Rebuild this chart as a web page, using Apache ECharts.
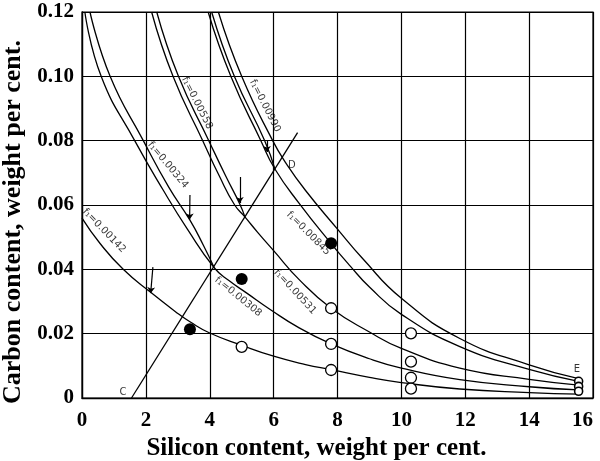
<!DOCTYPE html>
<html><head><meta charset="utf-8">
<script src="https://cdn.jsdelivr.net/npm/echarts@6/dist/echarts.min.js"></script>
<style>html,body{margin:0;padding:0;background:#fff}#c{width:600px;height:461px}</style>
</head><body><div id="c"></div>
<script>
// ---- tick labels ----
const xTickLabels = ['0','2','4','6','8','10','12','14','16'];
const yTickLabels = ['0','0.02','0.04','0.06','0.08','0.10','0.12'];

// ---- curves (Si %, C %) ----
const curveF142 = [[0,0.0559],[0.56,0.0481],[1.29,0.040],[2.13,0.0330],[3.0,0.0263],[3.38,0.0237],[4,0.0202],[5,0.0164],[6,0.0130],[7,0.0104],[7.8,0.0088],[9,0.0064],[10,0.0048],[11.83,0.0028],[14,0.0017],[15.55,0.0012]];
const curveF308 = [[0.09,0.12],[0.6,0.10],[1.65,0.08],[2.55,0.0645],[3.3,0.0525],[4.14,0.0405],[4.6,0.0365],[5.16,0.0326],[5.88,0.0276],[6.8,0.0218],[7.8,0.0168],[9,0.0122],[10,0.0093],[11.83,0.0057],[14,0.0035],[15.55,0.0025]];
const curveF324 = [[0.25,0.12],[0.88,0.10],[1.92,0.08],[2.72,0.0655],[3.38,0.0553],[3.8,0.0475],[4.14,0.0405]];
const curveF531 = [[2.18,0.12],[2.85,0.10],[3.78,0.08],[4.3,0.069],[4.78,0.06],[5.1,0.0563],[5.5,0.0515],[6.0,0.0458],[6.8,0.0368],[7.8,0.0279],[9,0.0205],[10,0.0154],[11.83,0.0093],[14,0.0058],[15.55,0.004]];
const curveF558 = [[2.34,0.12],[3.02,0.10],[3.97,0.08],[4.5,0.069],[4.94,0.0603],[5.1,0.0563]];
const curveF845 = [[3.95,0.12],[4.66,0.10],[5.6,0.08],[6.04,0.0712],[6.8,0.0605],[7.8,0.048],[8.4,0.041],[9,0.0345],[10,0.026],[11.83,0.016],[14,0.0089],[15.55,0.0052]];
const curveF85x = [[4.06,0.12],[4.77,0.10],[5.72,0.08],[6.04,0.0712]];
const curveF990 = [[4.27,0.12],[5.0,0.10],[5.97,0.08],[6.4,0.0728],[7.0,0.0645],[8.0,0.0525],[8.8,0.0432],[10,0.031],[11.83,0.0185],[14,0.0103],[15.55,0.006]];
const lineCD = [[1.55,0],[6.75,0.0825]];

// ---- experimental points ----
const openPoints = [[5.0,0.0159],[7.8,0.0279],[7.8,0.0168],[7.8,0.0087],[10.3,0.0201],[10.3,0.0113],[10.3,0.0063],[10.3,0.0029]];
const openPointsE = [[15.55,0.0052],[15.55,0.0036],[15.55,0.0021]];
const filledPoints = [[3.38,0.0214],[5.0,0.037],[7.8,0.0481]];

// ---- arrows (from, to) ----
const arrowFrom = [[2.22,0.0407],[3.38,0.0631],[4.94,0.0687],[5.79,0.0800]];
const arrowTo   = [[2.15,0.0326],[3.37,0.0555],[4.94,0.0606],[5.79,0.0765]];

// ---- annotations ----
const curveLabelText = ['f\u2081=0.00142','f\u2081=0.00324','f\u2081=0.00558','f\u2081=0.00990','f\u2081=0.00845','f\u2081=0.00531','f\u2081=0.00308'];
const curveLabelAt   = [[0.69,0.052],[2.69,0.0724],[3.6,0.0917],[5.73,0.0908],[7.09,0.0512],[6.67,0.033],[4.89,0.0315]];
const curveLabelAngle = [-46,-50,-63,-63,-45,-47,-39];
const pointLabelText = ['C','D','E'];
const pointLabelAt = [[1.28,0.0017],[6.57,0.0724],[15.5,0.0088]];

const chart = echarts.init(document.getElementById('c'), null, {renderer:'canvas'});
const serif = 'Liberation Serif';
const lineStyle = {color:'#000', width:1.3, opacity:1};
const curves = [curveF142,curveF308,curveF324,curveF531,curveF558,curveF845,curveF85x,curveF990];
const series = curves.map(c => ({type:'line', data:c, symbol:'none', smooth:0.5, lineStyle:lineStyle, z:3, silent:true}));
series.push({type:'line', data:lineCD, symbol:'none', lineStyle:lineStyle, z:3});
series.push({type:'lines', coordinateSystem:'cartesian2d', z:4,
  data: arrowFrom.map((p,i)=>({coords:[p, arrowTo[i]]})),
  symbol:['none','arrow'], symbolSize:[0,6], lineStyle:{color:'#000', width:1.2, opacity:1}});
series.push({type:'scatter', data:openPoints, symbol:'circle', symbolSize:11, z:5,
  itemStyle:{color:'#fff', borderColor:'#000', borderWidth:1.3, opacity:1}});
series.push({type:'scatter', data:openPointsE, symbol:'circle', symbolSize:8, z:5,
  itemStyle:{color:'#fff', borderColor:'#000', borderWidth:1.6, opacity:1}});
series.push({type:'scatter', data:filledPoints, symbol:'circle', symbolSize:12, z:5,
  itemStyle:{color:'#000', opacity:1}});
series.push({type:'scatter', symbolSize:0, z:6, silent:true,
  data: curveLabelAt.map((p,i)=>({value:p, label:{show:true, position:'inside', rotate:curveLabelAngle[i], formatter:curveLabelText[i]}})),
  label:{color:'#000', fontFamily:'DejaVu Sans', fontSize:10}});
series.push({type:'scatter', symbolSize:0, z:6, silent:true,
  data: pointLabelAt.map((p,i)=>({value:p, label:{show:true, position:'inside', formatter:pointLabelText[i]}})),
  label:{color:'#000', fontFamily:'DejaVu Sans', fontSize:10}});

chart.setOption({
  animation:false,
  backgroundColor:'#fff',
  grid:{left:82, right:7, top:12, bottom:63, containLabel:false, outerBoundsMode:'none',
    show:true, borderColor:'#000', borderWidth:1.2},
  xAxis:{type:'value', min:0, max:16, interval:2,
    name:'Silicon content, weight per cent.', nameLocation:'middle', nameGap:33,
    nameTextStyle:{fontFamily:serif, fontWeight:'bold', fontSize:25, color:'#000', padding:[0,42,0,0]},
    axisLine:{lineStyle:{color:'#000', width:1.3}}, axisTick:{show:false},
    axisLabel:{fontFamily:serif, fontWeight:'bold', fontSize:21, color:'#000', margin:12, alignMaxLabel:'right',
      formatter:v => xTickLabels[Math.round(v/2)]},
    splitLine:{show:true, lineStyle:{color:'#000', width:1.2}}},
  yAxis:{type:'value', min:0, max:0.12, interval:0.02,
    name:'Carbon content, weight per cent.', nameLocation:'middle', nameGap:56,
    nameTextStyle:{fontFamily:serif, fontWeight:'bold', fontSize:26, color:'#000', padding:[0,34,0,0]},
    axisLine:{show:true, lineStyle:{color:'#000', width:1.3}}, axisTick:{show:false},
    axisLabel:{fontFamily:serif, fontWeight:'bold', fontSize:21, color:'#000', margin:8,
      formatter:v => yTickLabels[Math.round(v/0.02)]},
    splitLine:{show:true, lineStyle:{color:'#000', width:1.2}}},
  series:series
});
</script></body></html>
